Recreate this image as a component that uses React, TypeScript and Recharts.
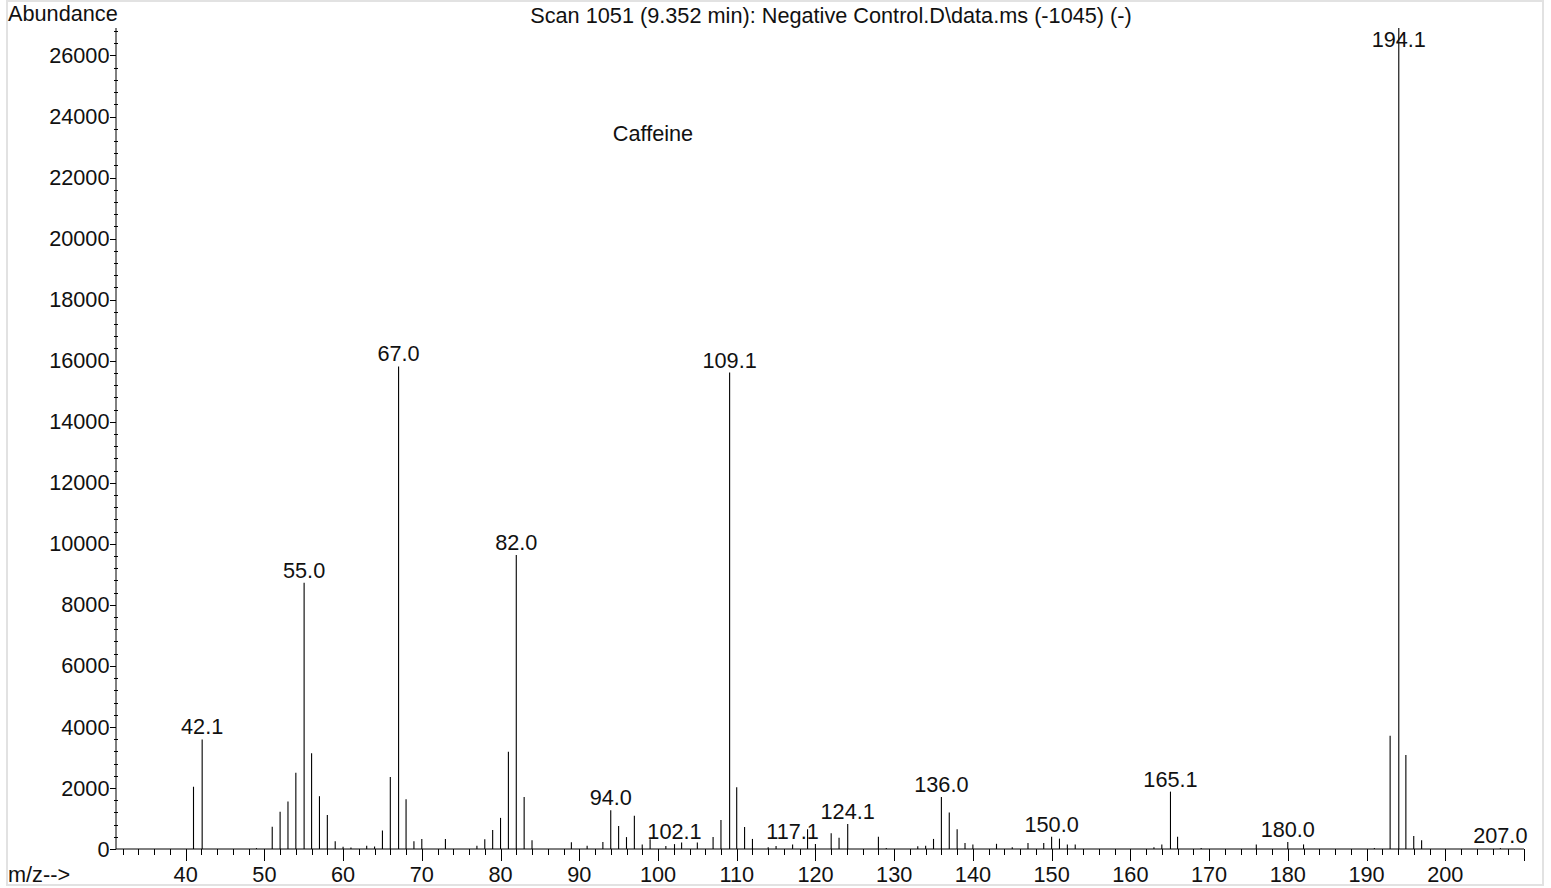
import React from 'react'
import { BarChart, Bar, XAxis, YAxis, LabelList } from 'recharts'

// m/z of each peak and its abundance
const mz = [
  41, 42.1, 49, 51, 52, 53, 54, 55.05, 56, 57, 58, 59, 60, 61, 63, 64, 65, 66, 67.05, 68,
  69, 70, 73, 77, 78, 79, 80, 81, 82, 83, 84, 89, 91, 93, 94, 95, 96, 97, 98, 99,
  101, 102.1, 103, 105, 107, 108, 109.1, 110, 111, 112, 114, 115, 117.1, 119, 120, 122, 123, 124.1, 128, 129,
  133, 134, 135, 136, 137, 138, 139, 140, 143, 145, 147, 149, 150, 151, 152, 153, 163, 164, 165.1, 166,
  169, 176, 180, 182, 191, 193, 194.1, 195, 196, 197, 207,
]
const abundance = [
  2040, 3590, 30, 730, 1220, 1560, 2500, 8720, 3140, 1730, 1110, 250, 75, 50, 110, 80, 610, 2360, 15810, 1630,
  250, 330, 330, 110, 320, 620, 1020, 3190, 9630, 1700, 290, 220, 110, 230, 1270, 750, 390, 1090, 150, 320,
  100, 160, 210, 210, 390, 950, 15610, 2020, 720, 330, 60, 100, 150, 650, 160, 520, 370, 820, 400, 30,
  90, 110, 330, 1700, 1200, 650, 200, 150, 170, 60, 200, 200, 400, 340, 150, 150, 60, 150, 1880, 400,
  30, 150, 230, 150, 30, 3710, 26900, 3080, 430, 290, 30,
]

// peaks that carry an m/z label
const labelMz = [42.1, 55.05, 67.05, 82, 94, 102.1, 109.1, 117.1, 124.1, 136, 150, 165.1, 180, 194.1, 207]
const labelText = ['42.1', '55.0', '67.0', '82.0', '94.0', '102.1', '109.1', '117.1', '124.1', '136.0', '150.0', '165.1', '180.0', '194.1', '207.0']

const xLabelTicks = [40, 50, 60, 70, 80, 90, 100, 110, 120, 130, 140, 150, 160, 170, 180, 190, 200]
const yLabelTicks = [0, 2000, 4000, 6000, 8000, 10000, 12000, 14000, 16000, 18000, 20000, 22000, 24000, 26000]

const X_DOMAIN: [number, number] = [31.15, 210]
const Y_MAX = 26900

const FONT = '"Liberation Sans", Arial, Helvetica, sans-serif'
const FS = 21.7
const INK = '#111'

const data = mz.map((m, i) => {
  const li = labelMz.indexOf(m)
  return { mz: m, abundance: abundance[i], label: li >= 0 ? labelText[li] : undefined }
})

const xTicks: number[] = []
for (let t = 32; t <= 210; t += 2) xTicks.push(t)
const yTicks: number[] = []
for (let t = 0; t <= 26800; t += 400) yTicks.push(t)

function PeakLine(props: any) {
  const { x, y, width, height } = props
  if (x == null || y == null) return null
  const cx = x + width / 2
  return <line x1={cx} x2={cx} y1={y} y2={y + height} stroke="#000" strokeWidth={1.1} />
}

function PeakLabel(props: any) {
  const { x, y, width, value } = props
  if (!value) return null
  const cx = x + width / 2
  const base = Math.max(y - 5, 47)
  return (
    <text x={cx} y={base} textAnchor="middle" fontFamily={FONT} fontSize={FS} fill={INK}>
      {value}
    </text>
  )
}

function XTick(props: any) {
  const { x, y, payload } = props
  const v = payload.value
  const major = v % 10 === 0
  const px = Math.round(x) + 0.5
  return (
    <g>
      <line x1={px} x2={px} y1={y} y2={y + (major ? 12 : 6)} stroke="#000" />
      {major && xLabelTicks.includes(v) && (
        <text x={x} y={y + 33} textAnchor="middle" fontFamily={FONT} fontSize={FS} fill={INK}>
          {v}
        </text>
      )}
    </g>
  )
}

function YTick(props: any) {
  const { x, y, payload } = props
  const v = payload.value
  const major = yLabelTicks.includes(v)
  const py = Math.round(y) + 0.5
  return (
    <g>
      {major ? (
        <line x1={x - 6} x2={x} y1={py} y2={py} stroke="#000" />
      ) : (
        <line x1={x - 2} x2={x + 2} y1={py} y2={py} stroke="#000" />
      )}
      {major && (
        <text x={x - 6.5} y={y} dy="0.35em" textAnchor="end" fontFamily={FONT} fontSize={FS} fill={INK}>
          {v}
        </text>
      )}
    </g>
  )
}

export default function App() {
  return (
    <div style={{ position: 'absolute', left: 0, top: 0, width: 1551, height: 888, background: '#fff' }}>
      <BarChart
        width={1551}
        height={888}
        data={data}
        margin={{ top: 28, right: 27, bottom: 9, left: 56 }}
      >
        <XAxis
          dataKey="mz"
          type="number"
          domain={X_DOMAIN}
          allowDataOverflow
          ticks={xTicks}
          interval={0}
          height={30}
          tickSize={0}
          tickMargin={0}
          tickLine={false}
          axisLine={{ stroke: '#000' }}
          tick={<XTick />}
        />
        <YAxis
          type="number"
          domain={[0, Y_MAX]}
          allowDataOverflow
          ticks={yTicks}
          interval={0}
          width={60}
          tickSize={0}
          tickMargin={0}
          tickLine={false}
          axisLine={{ stroke: '#000' }}
          tick={<YTick />}
        />
        <Bar dataKey="abundance" barSize={1} shape={<PeakLine />} isAnimationActive={false}>
          <LabelList dataKey="label" content={<PeakLabel />} />
        </Bar>
      </BarChart>
      <svg
        width={1551}
        height={888}
        style={{ position: 'absolute', left: 0, top: 0, pointerEvents: 'none' }}
      >
        <rect x={7} y={1} width={1536} height={884} fill="none" stroke="#e2e2e2" strokeWidth={2} />
        <text x={8} y={20.5} fontFamily={FONT} fontSize={FS} fill={INK}>Abundance</text>
        <text x={831} y={22.5} textAnchor="middle" fontFamily={FONT} fontSize={FS} fill={INK}>
          Scan 1051 (9.352 min): Negative Control.D\data.ms (-1045) (-)
        </text>
        <text x={653} y={141} textAnchor="middle" fontFamily={FONT} fontSize={FS} fill={INK}>Caffeine</text>
        <text x={8} y={882} fontFamily={FONT} fontSize={FS} fill={INK}>m/z--&gt;</text>
      </svg>
    </div>
  )
}
